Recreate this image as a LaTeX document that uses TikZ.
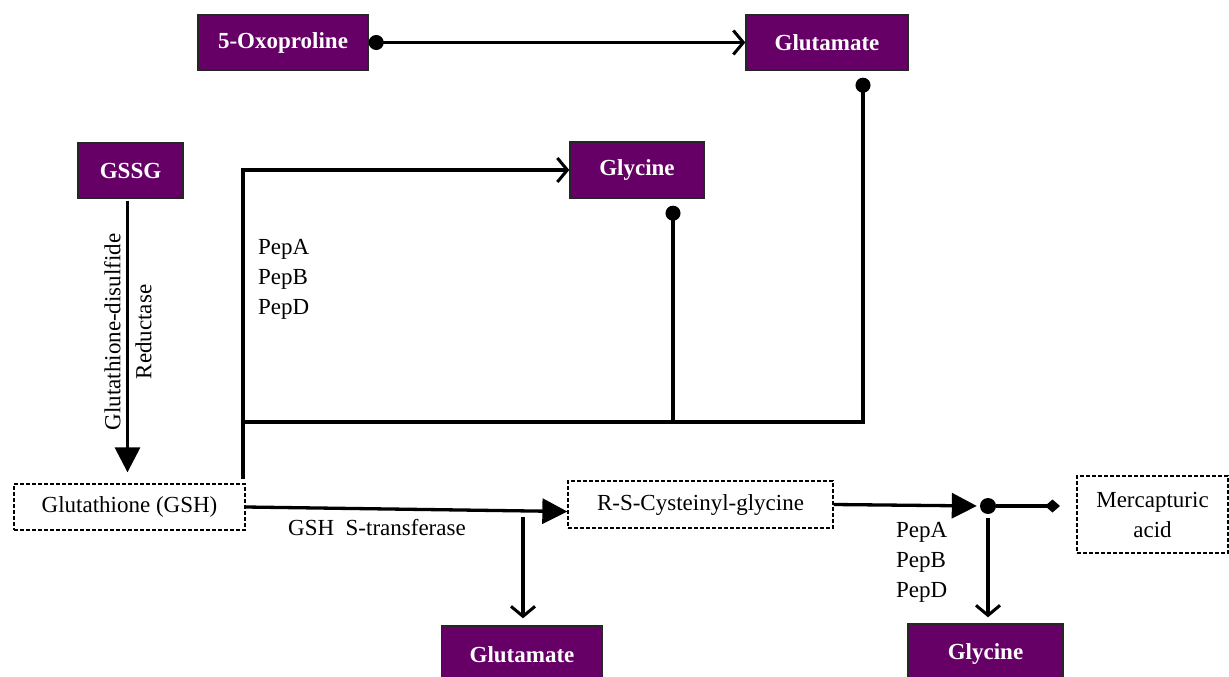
\documentclass[tikz,border=0pt]{standalone}
\usepackage{fontspec}
\setmainfont{Liberation Serif}
\usetikzlibrary{arrows.meta}
\definecolor{plum}{HTML}{660066}
\begin{document}
\begin{tikzpicture}[x=1pt,y=-1pt,
  every node/.style={font=\fontsize{23}{30}\selectfont},
  met/.style={fill=plum, draw=black!85, line width=1.4pt, text=white,
    font=\fontsize{23}{28}\selectfont\bfseries, minimum height=55pt, inner sep=0pt},
  dbox/.style={draw, dash pattern=on 4pt off 2pt, line width=1.3pt, inner sep=0pt},
  conn/.style={line width=3.3pt},
  barb/.style={-{Straight Barb[length=10pt,width=24pt,line width=3pt]}},
  tri/.style={-{Triangle[length=25pt,width=25pt]}},
  dot/.style={{Circle[length=15pt]}-},
  lab/.style={inner sep=0pt, align=left, font=\fontsize{23}{30}\selectfont}]
\useasboundingbox (0,0) rectangle (1229,677);
% metabolite boxes
\node[met, minimum width=170pt] (oxo) at (283,42.5) {5-Oxoproline};
\node[met, minimum width=162pt] (glu1) at (827,42.5) {Glutamate};
\node[met, minimum width=105pt] (gssg) at (130.5,170.5) {GSSG};
\node[met, minimum width=134pt, minimum height=56pt] (gly1) at (637,170) {Glycine};
\node[met, minimum width=161pt, minimum height=58pt] (glu2) at (522,655) {Glutamate};
\node[met, minimum width=155pt, minimum height=60pt] (gly2) at (985.5,654) {Glycine};
% dashed boxes
\node[dbox, minimum width=231pt, minimum height=46pt] (gsh) at (129.5,507) {Glutathione (GSH)};
\node[dbox, minimum width=265pt, minimum height=47pt] (rsc) at (700.5,504.5) {R-S-Cysteinyl-glycine};
\node[dbox, minimum width=151pt, minimum height=77pt, align=center] (merc) at (1152.5,514.5) {Mercapturic\\acid};
% junction dot
\node[circle, fill, minimum size=16pt, inner sep=0pt] (jn) at (988,506) {};
% helper coordinates
\coordinate (c0) at (243,422);
\coordinate (c1) at (863,422);
\coordinate (c2) at (673,422);
\coordinate (b1) at (523,517);
\coordinate (dm) at (1060,506);
% connectors
\draw[conn, {Circle[length=15pt]}-{Straight Barb[length=10pt,width=24pt,line width=3pt]}] (oxo.east) -- (glu1.west);
\draw[conn, dot] ([yshift=-7pt]glu1.south -| c1) -- (c1) -- (c0);
\draw[conn, dot] ([yshift=-7pt]gly1.south -| c2) -- (c2);
\draw[conn, barb] ([yshift=4pt]gsh.north east -| c0) -- (c0 |- gly1) -- (gly1.west);
\draw[conn, tri, shorten <=2pt, shorten >=11pt] ([xshift=-3pt]gssg.south) -- ([xshift=-3pt]gssg.south |- gsh.north);
\draw[conn, tri] (gsh.east) -- ([yshift=-7pt]rsc.west);
\draw[conn, barb, shorten >=7pt] (b1) -- (b1 |- glu2.north);
\draw[conn, tri, shorten >=3pt] (rsc.east) -- (jn.west);
\draw[conn, -{Diamond[length=15pt,width=13pt]}] (jn.east) -- (dm);
\draw[conn, barb, shorten >=6pt] ([yshift=-4pt]jn.south) -- (jn |- gly2.north);
% labels
\node[rotate=90, align=center, font=\fontsize{23}{31}\selectfont] (enz1) at (128,332) {Glutathione-disulfide\\Reductase};
\node[lab, anchor=north west] (gst) at (288,519) {GSH\ \ S-transferase};
\node[lab, anchor=north west] (pep1) at (258,239) {PepA\\PepB\\PepD};
\node[lab, anchor=north west] (pep2) at (896,522) {PepA\\PepB\\PepD};
\end{tikzpicture}
\end{document}
